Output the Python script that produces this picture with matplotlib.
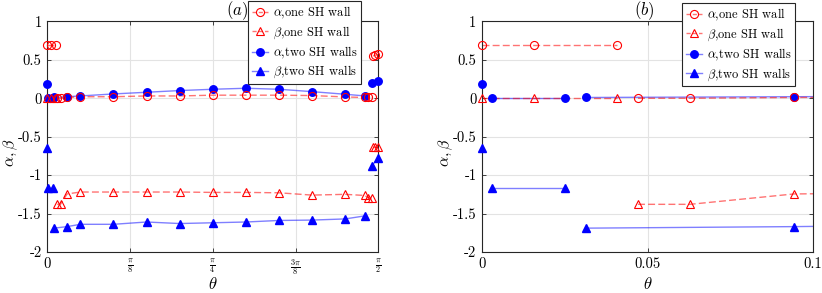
import numpy as np
import matplotlib
matplotlib.use("Agg")
import matplotlib.pyplot as plt
from matplotlib.lines import Line2D

plt.rcParams['font.family'] = 'serif'
plt.rcParams['font.serif'] = ['cmr10', 'DejaVu Serif']
plt.rcParams['mathtext.fontset'] = 'cm'
plt.rcParams['axes.unicode_minus'] = False

# ---------------- data (theta in units of pi) ----------------
theta_one_pi = [0, 0.005, 0.013, 0.015, 0.02, 0.03, 0.05, 0.1, 0.15, 0.2, 0.25, 0.3,
                0.35, 0.4, 0.45, 0.48, 0.485, 0.49, 0.492, 0.495, 0.5]
alpha_one = [0.69, 0.69, 0.69, 0.0, 0.0, 0.01, 0.02, 0.02, 0.03, 0.03, 0.04, 0.04,
             0.04, 0.035, 0.017, 0.01, 0.01, 0.01, 0.55, 0.56, 0.57]
beta_one = [0.0, 0.0, 0.0, -1.38, -1.38, -1.245, -1.22, -1.22, -1.22, -1.22, -1.225, -1.225,
            -1.23, -1.26, -1.25, -1.265, -1.30, -1.30, -0.63, -0.63, -0.63]
segment_one = [0, 0, 0, 1, 1, 1, 1, 1, 1, 1, 1, 1, 1, 1, 1, 1, 1, 1, 2, 2, 2]

theta_two_pi = [0, 0.001, 0.008, 0.01, 0.03, 0.05, 0.1, 0.15, 0.2, 0.25, 0.3, 0.35,
                0.4, 0.45, 0.48, 0.49, 0.5]
alpha_two = [0.19, 0.0, 0.0, 0.01, 0.02, 0.03, 0.056, 0.078, 0.10, 0.117, 0.13, 0.117,
             0.086, 0.052, 0.03, 0.20, 0.23]
beta_two = [-0.65, -1.17, -1.17, -1.69, -1.67, -1.64, -1.64, -1.61, -1.63, -1.62, -1.61, -1.59,
            -1.585, -1.57, -1.53, -0.88, -0.78]
segment_two = [0, 1, 1, 2, 2, 2, 2, 2, 2, 2, 2, 2, 2, 2, 2, 3, 3]

labels = [r'$\alpha$,one SH wall', r'$\beta$,one SH wall',
          r'$\alpha$,two SH walls', r'$\beta$,two SH walls']

yticks = [1, 0.5, 0, -0.5, -1, -1.5, -2]
yticklabels = ['1', '0.5', '0', '-0.5', '-1', '-1.5', '-2']

xticks_a = [0, np.pi / 8, np.pi / 4, 3 * np.pi / 8, np.pi / 2]
xticklabels_a = ['0', r'$\frac{\pi}{8}$', r'$\frac{\pi}{4}$', r'$\frac{3\pi}{8}$', r'$\frac{\pi}{2}$']
xticks_b = [0, 0.05, 0.1]
xticklabels_b = ['0', '0.05', '0.1']

# ---------------- styles ----------------
RED_LINE = (1, 0, 0, 0.55)
BLUE_LINE = (0, 0, 1, 0.5)
AXCOL = '#262626'

th1 = np.array(theta_one_pi) * np.pi
th2 = np.array(theta_two_pi) * np.pi


def plot_segments(ax, th, vals, segs, color, ls, dashes=None):
    vals = np.array(vals)
    segs = np.array(segs)
    for s in np.unique(segs):
        m = segs == s
        if m.sum() > 1:
            kw = dict(color=color, lw=1.0, ls=ls, zorder=2)
            if dashes is not None:
                kw['dashes'] = dashes
            ax.plot(th[m], vals[m], **kw)


def draw(ax, xlim, xticks, xticklabels, legend_anchor, frac_labels):
    # blue (two walls)
    plot_segments(ax, th2, alpha_two, segment_two, BLUE_LINE, '-')
    plot_segments(ax, th2, beta_two, segment_two, BLUE_LINE, '-')
    ax.plot(th2, alpha_two, ls='none', marker='o', ms=5.4, mfc='blue', mec='blue', zorder=3, clip_on=False)
    ax.plot(th2, beta_two, ls='none', marker='^', ms=6.0, mfc='blue', mec='blue', zorder=3, clip_on=False)
    # red (one wall)
    plot_segments(ax, th1, alpha_one, segment_one, RED_LINE, '--', dashes=(5, 2.3))
    plot_segments(ax, th1, beta_one, segment_one, RED_LINE, '--', dashes=(5, 2.3))
    ax.plot(th1, alpha_one, ls='none', marker='o', ms=5.8, mfc='none', mec='red', mew=0.8, zorder=4, clip_on=False)
    ax.plot(th1, beta_one, ls='none', marker='^', ms=6.0, mfc='none', mec='red', mew=0.8, zorder=4, clip_on=False)

    ax.set_xlim(*xlim)
    ax.set_ylim(-2, 1)
    ax.set_yticks(yticks)
    ax.set_yticklabels(yticklabels)
    ax.set_xticks(xticks)
    ax.set_xticklabels(xticklabels)
    ax.grid(True, color='#e3e3e3', lw=0.8)
    ax.set_axisbelow(True)
    for sp in ax.spines.values():
        sp.set_color(AXCOL)
        sp.set_linewidth(0.8)
    ax.tick_params(direction='in', length=3, width=0.6, colors=AXCOL, labelcolor='black',
                   top=True, right=True, labelsize=10.5, pad=4)
    if frac_labels:
        for i, t in enumerate(ax.get_xticklabels()):
            if i > 0:
                t.set_fontsize(8.5)
    ax.set_xlabel(r'$\theta$', fontsize=12)
    ax.xaxis.set_label_coords(0.5, -0.105)
    ax.set_ylabel(r'$\alpha,\beta$', fontsize=11.5)
    ax.yaxis.set_label_coords(-0.082, 0.43)

    handles = [
        Line2D([], [], color=RED_LINE, ls='--', dashes=(3, 1.5), lw=1.0, marker='o', ms=5.8, mfc='none', mec='red', mew=0.8),
        Line2D([], [], color=RED_LINE, ls='--', dashes=(3, 1.5), lw=1.0, marker='^', ms=6.0, mfc='none', mec='red', mew=0.8),
        Line2D([], [], color=BLUE_LINE, ls='-', lw=1.0, marker='o', ms=5.4, mfc='blue', mec='blue'),
        Line2D([], [], color=BLUE_LINE, ls='-', lw=1.0, marker='^', ms=6.0, mfc='blue', mec='blue'),
    ]
    leg = ax.legend(handles, labels, loc='upper right', bbox_to_anchor=legend_anchor,
                    fontsize=9, frameon=True, fancybox=False, framealpha=1,
                    edgecolor=AXCOL, handlelength=1.3, handletextpad=0.35,
                    labelspacing=0.28, borderpad=0.3, borderaxespad=0)
    leg.get_frame().set_linewidth(0.8)
    leg.set_zorder(10)


fig = plt.figure(figsize=(8.22, 2.93), dpi=100)
ax1 = fig.add_axes([0.0575, 0.140, 0.4027, 0.787])
ax2 = fig.add_axes([0.5864, 0.140, 0.4027, 0.787])

draw(ax1, (0, np.pi / 2), xticks_a, xticklabels_a, (0.948, 1.088), True)
draw(ax2, (0, 0.1), xticks_b, xticklabels_b, (0.946, 1.079), False)

ax1.text(0.573, 1.045, r'$(a)$', transform=ax1.transAxes, ha='center', va='center', fontsize=12)
ax2.text(0.49, 1.045, r'$(b)$', transform=ax2.transAxes, ha='center', va='center', fontsize=12)

fig.savefig('out.png', dpi=100)
